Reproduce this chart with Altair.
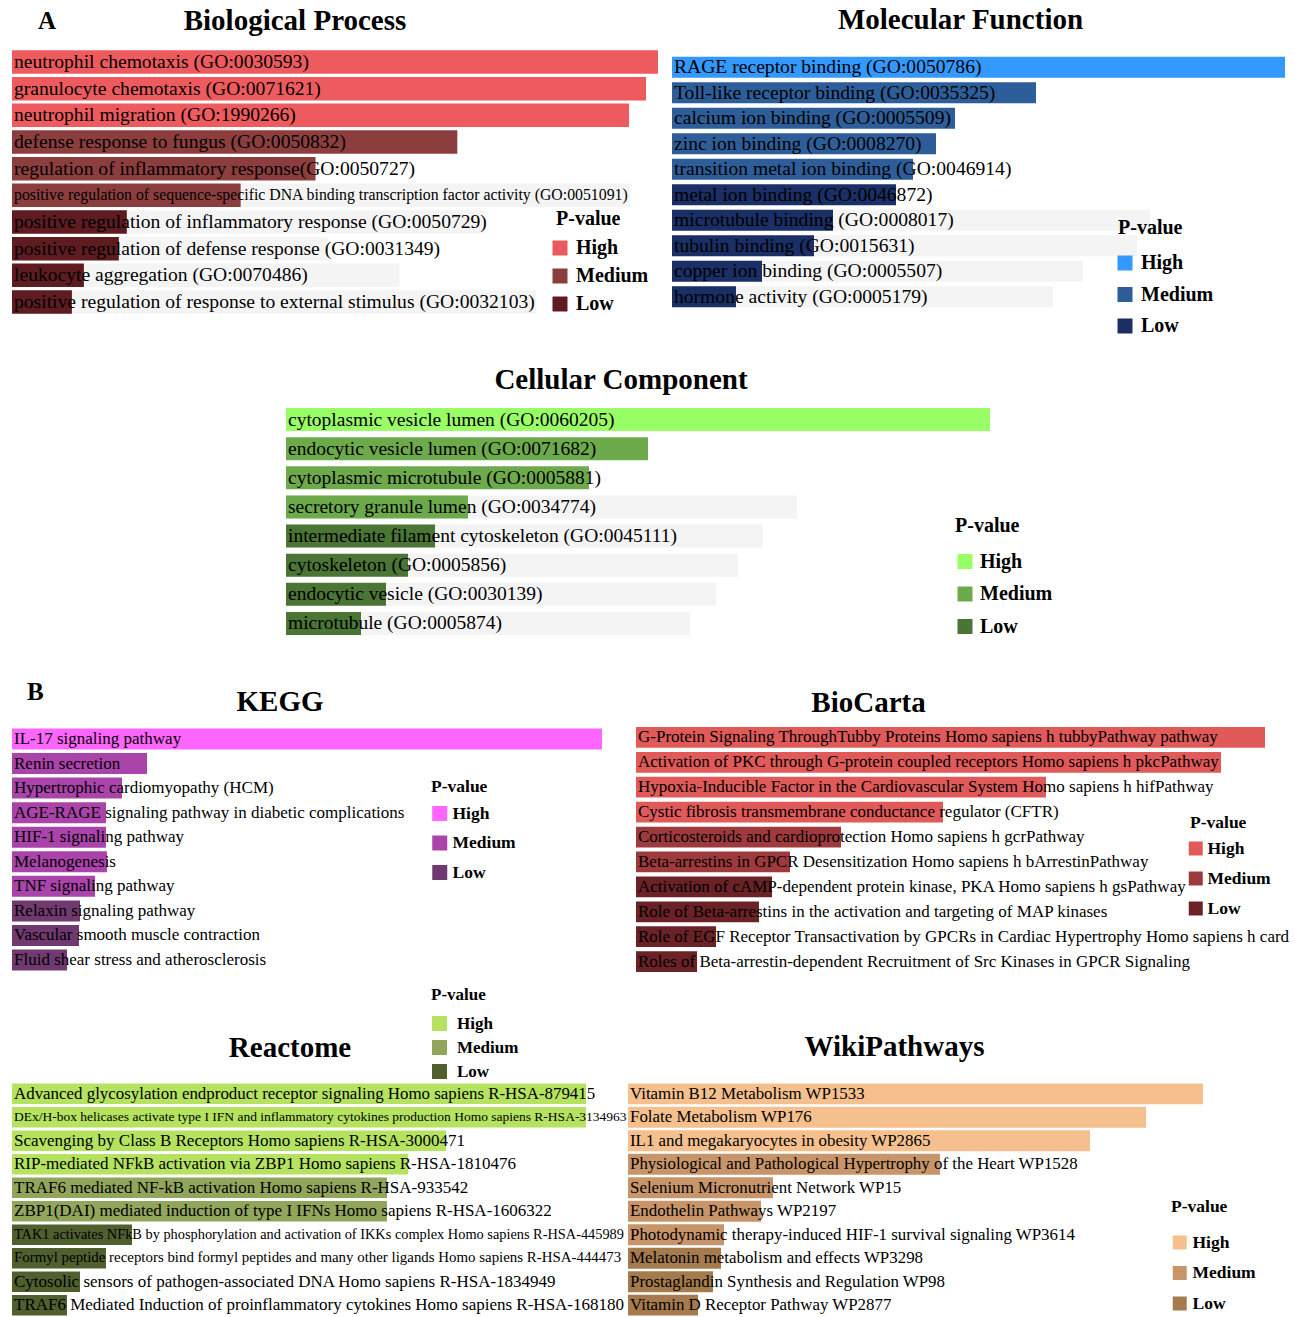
import altair as alt
import pandas as pd

FONT = "Liberation Serif"
LEVELS = ["High", "Medium", "Low"]

# ---------------- Biological Process ----------------
bp_terms = [
    "neutrophil chemotaxis (GO:0030593)",
    "granulocyte chemotaxis (GO:0071621)",
    "neutrophil migration (GO:1990266)",
    "defense response to fungus (GO:0050832)",
    "regulation of inflammatory response(GO:0050727)",
    "positive regulation of sequence-specific DNA binding transcription factor activity (GO:0051091)",
    "positive regulation of inflammatory response (GO:0050729)",
    "positive regulation of defense response (GO:0031349)",
    "leukocyte aggregation (GO:0070486)",
    "positive regulation of response to external stimulus (GO:0032103)",
]
bp_scores = [647, 635, 618, 446, 304, 229, 115, 107, 72, 60]
bp_pvalue = ["High", "High", "High", "Medium", "Medium", "Medium", "Low", "Low", "Low", "Low"]
bp_shadow = [0, 0, 0, 0, 0, 619, 474, 316, 388, 525]
bp_fontsize = [19.6, 19.6, 19.6, 19.6, 19.6, 15.8, 19.6, 19.6, 19.6, 19.6]
bp_colors = ["#EE5B5E", "#8C3E3E", "#5E1C20"]

# ---------------- Molecular Function ----------------
mf_terms = [
    "RAGE receptor binding (GO:0050786)",
    "Toll-like receptor binding (GO:0035325)",
    "calcium ion binding (GO:0005509)",
    "zinc ion binding (GO:0008270)",
    "transition metal ion binding (GO:0046914)",
    "metal ion binding (GO:0046872)",
    "microtubule binding (GO:0008017)",
    "tubulin binding (GO:0015631)",
    "copper ion binding (GO:0005507)",
    "hormone activity (GO:0005179)",
]
mf_scores = [613, 364, 283, 264, 241, 224, 161, 142, 90, 64]
mf_pvalue = ["High", "Medium", "Medium", "Medium", "Medium", "Low", "Low", "Low", "Low", "Low"]
mf_shadow = [0, 0, 0, 0, 0, 0, 478, 465, 411, 381]
mf_fontsize = [19.6, 19.6, 19.6, 19.6, 19.6, 19.6, 19.6, 19.6, 19.6, 19.6]
mf_colors = ["#3399FF", "#2E5E99", "#1A2F66"]

# ---------------- Cellular Component ----------------
cc_terms = [
    "cytoplasmic vesicle lumen (GO:0060205)",
    "endocytic vesicle lumen (GO:0071682)",
    "cytoplasmic microtubule (GO:0005881)",
    "secretory granule lumen (GO:0034774)",
    "intermediate filament cytoskeleton (GO:0045111)",
    "cytoskeleton (GO:0005856)",
    "endocytic vesicle (GO:0030139)",
    "microtubule (GO:0005874)",
]
cc_scores = [704, 362, 303, 182, 149, 122, 100, 75]
cc_pvalue = ["High", "Medium", "Medium", "Medium", "Low", "Low", "Low", "Low"]
cc_shadow = [0, 0, 0, 511, 477, 452, 430, 404]
cc_fontsize = [19.5, 19.5, 19.5, 19.5, 19.5, 19.5, 19.5, 19.5]
cc_colors = ["#99FF66", "#6DAA4B", "#4A7535"]

# ---------------- KEGG ----------------
kegg_terms = [
    "IL-17 signaling pathway",
    "Renin secretion",
    "Hypertrophic cardiomyopathy (HCM)",
    "AGE-RAGE signaling pathway in diabetic complications",
    "HIF-1 signaling pathway",
    "Melanogenesis",
    "TNF signaling pathway",
    "Relaxin signaling pathway",
    "Vascular smooth muscle contraction",
    "Fluid shear stress and atherosclerosis",
]
kegg_scores = [590, 135, 110, 94, 94, 95, 83, 68, 67, 55]
kegg_pvalue = ["High", "Medium", "Medium", "Medium", "Medium", "Medium", "Medium", "Low", "Low", "Low"]
kegg_shadow = [0, 0, 0, 0, 0, 0, 0, 0, 0, 0]
kegg_fontsize = [17, 17, 17, 17, 17, 17, 17, 17, 17, 17]
kegg_colors = ["#FF66FF", "#AA44AA", "#703A70"]

# ---------------- BioCarta ----------------
bc_terms = [
    "G-Protein Signaling ThroughTubby Proteins Homo sapiens h tubbyPathway pathway",
    "Activation of PKC through G-protein coupled receptors Homo sapiens h pkcPathway",
    "Hypoxia-Inducible Factor in the Cardiovascular System Homo sapiens h hifPathway",
    "Cystic fibrosis transmembrane conductance regulator (CFTR)",
    "Corticosteroids and cardioprotection Homo sapiens h gcrPathway",
    "Beta-arrestins in GPCR Desensitization Homo sapiens h bArrestinPathway",
    "Activation of cAMP-dependent protein kinase, PKA Homo sapiens h gsPathway",
    "Role of Beta-arrestins in the activation and targeting of MAP kinases",
    "Role of EGF Receptor Transactivation by GPCRs in Cardiac Hypertrophy Homo sapiens h card",
    "Roles of Beta-arrestin-dependent Recruitment of Src Kinases in GPCR Signaling",
]
bc_scores = [629, 585, 410, 307, 205, 154, 136, 123, 80, 61]
bc_pvalue = ["High", "High", "High", "High", "Medium", "Medium", "Low", "Low", "Low", "Low"]
bc_shadow = [0, 0, 0, 0, 0, 0, 0, 0, 0, 0]
bc_fontsize = [17, 17, 17, 17, 17, 17, 17, 17, 17, 17]
bc_colors = ["#E05A5A", "#9E3A3E", "#6A2226"]

# ---------------- Reactome ----------------
re_terms = [
    "Advanced glycosylation endproduct receptor signaling Homo sapiens R-HSA-879415",
    "DEx/H-box helicases activate type I IFN and inflammatory cytokines production Homo sapiens R-HSA-3134963",
    "Scavenging by Class B Receptors Homo sapiens R-HSA-3000471",
    "RIP-mediated NFkB activation via ZBP1 Homo sapiens R-HSA-1810476",
    "TRAF6 mediated NF-kB activation Homo sapiens R-HSA-933542",
    "ZBP1(DAI) mediated induction of type I IFNs Homo sapiens R-HSA-1606322",
    "TAK1 activates NFkB by phosphorylation and activation of IKKs complex Homo sapiens R-HSA-445989",
    "Formyl peptide receptors bind formyl peptides and many other ligands Homo sapiens R-HSA-444473",
    "Cytosolic sensors of pathogen-associated DNA Homo sapiens R-HSA-1834949",
    "TRAF6 Mediated Induction of proinflammatory cytokines Homo sapiens R-HSA-168180",
]
re_scores = [574, 574, 434, 396, 375, 375, 120, 94, 68, 55]
re_pvalue = ["High", "High", "High", "High", "Medium", "Medium", "Low", "Low", "Low", "Low"]
re_shadow = [0, 0, 0, 0, 0, 0, 0, 0, 0, 0]
re_fontsize = [16.9, 13.5, 17, 17, 17, 17, 14.35, 14.9, 17, 17]
re_colors = ["#B5E35F", "#91A65B", "#4F5F2E"]

# ---------------- WikiPathways ----------------
wp_terms = [
    "Vitamin B12 Metabolism WP1533",
    "Folate Metabolism WP176",
    "IL1 and megakaryocytes in obesity WP2865",
    "Physiological and Pathological Hypertrophy of the Heart WP1528",
    "Selenium Micronutrient Network WP15",
    "Endothelin Pathways WP2197",
    "Photodynamic therapy-induced HIF-1 survival signaling WP3614",
    "Melatonin metabolism and effects WP3298",
    "Prostaglandin Synthesis and Regulation WP98",
    "Vitamin D Receptor Pathway WP2877",
]
wp_scores = [575, 518, 462, 312, 145, 133, 96, 93, 85, 70]
wp_pvalue = ["High", "High", "High", "Medium", "Medium", "Medium", "Medium", "Low", "Low", "Low"]
wp_shadow = [0, 0, 0, 0, 0, 0, 0, 0, 0, 0]
wp_fontsize = [16.9, 16.9, 16.9, 16.9, 16.9, 16.9, 16.9, 16.9, 16.9, 16.9]
wp_colors = ["#F5C08E", "#C8956A", "#A57B4E"]


def panel(title, terms, scores, pvalue, shadow, fontsize, colors, width, height,
          pad_inner, pad_outer, title_dx, title_offset, leg):
    df = pd.DataFrame({
        "term": terms, "score": scores, "pvalue": pvalue,
        "shadow": shadow, "fs": fontsize,
    })
    yenc = alt.Y("term:N", sort=terms, axis=None,
                 scale=alt.Scale(paddingInner=pad_inner, paddingOuter=pad_outer))
    xscale = alt.Scale(domain=[0, max(scores)], nice=False, zero=True)
    base = alt.Chart(df)
    shadow_layer = base.mark_bar(color="#F4F4F4").encode(
        x=alt.X("shadow:Q", scale=xscale, axis=None), y=yenc)
    bars = base.mark_bar().encode(
        x=alt.X("score:Q", scale=xscale, axis=None),
        y=yenc,
        color=alt.Color(
            "pvalue:N",
            scale=alt.Scale(domain=LEVELS, range=colors),
            legend=alt.Legend(
                title="P-value", orient="none",
                legendX=leg["x"], legendY=leg["y"], padding=0,
                titleFont=FONT, titleFontWeight="bold", titleFontSize=leg["fs"],
                titleColor="black", titlePadding=leg["tp"],
                labelFont=FONT, labelFontWeight="bold", labelFontSize=leg["fs"],
                labelColor="black", labelOffset=leg["lo"],
                symbolType="square", symbolSize=leg["ss"], symbolStrokeWidth=0,
                symbolOffset=leg["so"], symbolOpacity=1, rowPadding=leg["rp"],
            ),
        ),
    )
    text = base.mark_text(align="left", baseline="middle", dx=2, font=FONT,
                          color="black").encode(
        x=alt.datum(0), y=yenc, text="term:N",
        size=alt.Size("fs:Q", scale=None, legend=None))
    return alt.layer(shadow_layer, bars, text).properties(
        width=width, height=height,
        title=alt.TitleParams(title, font=FONT, fontSize=29, fontWeight="bold",
                              color="black", anchor="middle", frame="group",
                              dx=title_dx, offset=title_offset, baseline="alphabetic"),
    )


bp = panel("Biological Process", bp_terms, bp_scores, bp_pvalue, bp_shadow, bp_fontsize,
           bp_colors, 646, 270, 0.119, 0.122, -40, -11.5,
           {"x": 544, "y": 162, "fs": 20, "tp": 9, "lo": 6, "ss": 225, "rp": 8, "so": -6})
mf = panel("Molecular Function", mf_terms, mf_scores, mf_pvalue, mf_shadow, mf_fontsize,
           mf_colors, 613, 270, 0.176, 0.382, -18, -11.3,
           {"x": 446, "y": 171, "fs": 20, "tp": 15, "lo": 6, "ss": 225, "rp": 11.5, "so": -3})
cc = panel("Cellular Component", cc_terms, cc_scores, cc_pvalue, cc_shadow, cc_fontsize,
           cc_colors, 704, 232, 0.21, 0.086, -17, -12,
           {"x": 669, "y": 110, "fs": 20, "tp": 16, "lo": 5, "ss": 225, "rp": 12.5, "so": 0})
kegg = panel("KEGG", kegg_terms, kegg_scores, kegg_pvalue, kegg_shadow, kegg_fontsize,
             kegg_colors, 590, 248, 0.147, 0.122, -27, -14,
             {"x": 419, "y": 52, "fs": 17.5, "tp": 9.75, "lo": 4, "ss": 225, "rp": 10.5, "so": 0})
bc = panel("BioCarta", bc_terms, bc_scores, bc_pvalue, bc_shadow, bc_fontsize,
           bc_colors, 629, 248, 0.167, 0.06, -82, -15,
           {"x": 554, "y": 88, "fs": 17.5, "tp": 8.75, "lo": 3, "ss": 196, "rp": 11, "so": -3})
re = panel("Reactome", re_terms, re_scores, re_pvalue, re_shadow, re_fontsize,
           re_colors, 574, 236, 0.121, 0.08, -9, -99,
           {"x": 419, "y": -95, "fs": 17, "tp": 11.5, "lo": 9, "ss": 225, "rp": 6, "so": 0})
wp = panel("WikiPathways", wp_terms, wp_scores, wp_pvalue, wp_shadow, wp_fontsize,
           wp_colors, 575, 236, 0.11, 0.08, -21, -3,
           {"x": 543, "y": 116, "fs": 17.5, "tp": 18.75, "lo": 4, "ss": 196, "rp": 11.5, "so": 0})

spacer = alt.Chart(pd.DataFrame({"v": [0]})).mark_point(opacity=0).encode(
    x=alt.X("v:Q", axis=None), y=alt.Y("v:Q", axis=None)
).properties(width=274, height=232)

row1 = alt.hconcat(bp, mf, spacing=14, bounds="flush").resolve_scale(color="independent")
row2 = alt.hconcat(spacer, cc, spacing=0, bounds="flush").resolve_scale(color="independent")
row3 = alt.hconcat(kegg, bc, spacing=34, bounds="flush").resolve_scale(color="independent")
row4 = alt.hconcat(re, wp, spacing=42, bounds="flush").resolve_scale(color="independent")

secA = alt.vconcat(
    row1, row2, spacing=29.5,
    title=alt.TitleParams("A", font=FONT, fontSize=25, fontWeight="bold", color="black",
                          anchor="start", frame="group", dx=26, offset=-48,
                          baseline="alphabetic"),
).resolve_scale(color="independent")
secB = alt.vconcat(
    row3, row4, spacing=13,
    title=alt.TitleParams("B", font=FONT, fontSize=25, fontWeight="bold", color="black",
                          anchor="start", frame="group", dx=15, offset=-37.5,
                          baseline="alphabetic"),
).resolve_scale(color="independent")

chart = alt.vconcat(secA, secB, spacing=41.5).resolve_scale(
    color="independent"
).properties(
    padding={"left": 12, "top": 6, "right": 0, "bottom": 0},
    background="white",
).configure_view(stroke=None)

chart.save("out.html", embed_options={"renderer": "svg", "actions": False})
